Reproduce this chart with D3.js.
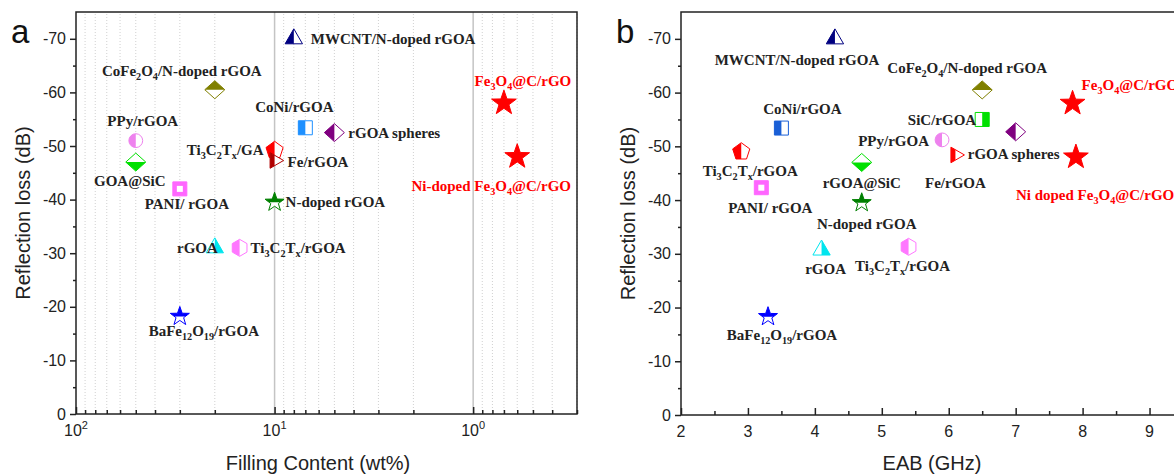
<!DOCTYPE html>
<html>
<head>
<meta charset="utf-8">
<script src="https://cdn.jsdelivr.net/npm/d3@7"></script>
<style>
  body { margin: 0; background: #fff; }
  svg { display: block; }
</style>
</head>
<body>
<div class="canvas"></div>
<script>
// data: panel a, filling content (wt%) vs reflection loss (dB)
var fillNames = ["MWCNT/N-doped rGOA", "CoFe_2O_4/N-doped rGOA", "PPy/rGOA", "GOA@SiC", "PANI/ rGOA",
    "Ti_3C_2T_x/GA", "Fe/rGOA", "CoNi/rGOA", "rGOA spheres", "N-doped rGOA", "rGOA",
    "Ti_3C_2T_x/rGOA", "BaFe_12O_19/rGOA", "Fe_3O_4@C/rGO", "Ni-doped Fe_3O_4@C/rGO"];
var fillContent = [8, 20, 50, 50, 30, 10, 10, 7, 5, 10, 20, 15, 30, 0.7, 0.6];
var fillRL = [-70, -60.5, -51, -47, -42, -49.2, -47.3, -53.4, -52.5, -39.5, -31, -31, -18.2, -58, -48];

// data: panel b, EAB (GHz) vs reflection loss (dB)
var eabNames = ["MWCNT/N-doped rGOA", "CoFe_2O_4/N-doped rGOA", "CoNi/rGOA", "Ti_3C_2T_x/rGOA", "PANI/ rGOA",
    "PPy/rGOA", "rGOA@SiC", "N-doped rGOA", "rGOA", "Ti_3C_2T_x/rGOA", "BaFe_12O_19/rGOA",
    "SiC/rGOA", "rGOA spheres", "Fe/rGOA", "Fe_3O_4@C/rGO", "Ni doped Fe_3O_4@C/rGO"];
var eabValues = [4.3, 6.5, 3.5, 2.9, 3.2, 5.9, 4.7, 4.7, 4.1, 5.4, 3.3, 6.5, 7.0, 6.1, 7.85, 7.9];
var eabRL = [-70, -60.5, -53.4, -49, -42.3, -51.2, -47, -39.5, -30.7, -31.3, -18.3, -55, -52.7, -48.4, -58, -48];

// tick labels
var rlTicks = [0, -10, -20, -30, -40, -50, -60, -70];
var fillTicks = [100, 10, 1];
var fillTickExp = ["2", "1", "0"];
var eabTicks = [2, 3, 4, 5, 6, 7, 8, 9];

// marker styles
var fillShape = ["tri", "diamond", "circle", "diamond", "ring", "pent", "triR", "square", "diamond", "star", "tri", "hex", "star", "bigstar", "bigstar"];
var fillColor = ["#000080", "#808000", "#ee82ee", "#00e000", "#ff66ff", "#ff0000", "#b00000", "#1e90ff", "#800080", "#008000", "#00e5ee", "#ff77ff", "#0000ff", "#ff0000", "#ff0000"];
var fillHalf = ["left", "top", "left", "bottom", "full", "left", "left", "left", "left", "top", "right", "left", "top", "full", "full"];
// label offsets from the marker: dx, dy, anchor
var fillLabel = [[17, 5, "start"], [-33, -14, "middle"], [7, -15, "middle"], [-6, 24, "middle"], [7, 20, "middle"],
    [-11, 5, "end"], [13, 7, "start"], [-11, -16, "middle"], [14, 5, "start"], [11, 5, "start"], [3, 5, "end"],
    [11, 5, "start"], [24, 20, "middle"], [19, -17, "middle"], [-26, 34, "middle"]];
var fillLabelColor = fillNames.map(function (d, i) { return i >= 13 ? "#ff0000" : "#222"; });

var eabShape = ["tri", "diamond", "square", "pent", "ring", "circle", "diamond", "star", "tri", "hex", "star", "square", "diamond", "triR", "bigstar", "bigstar"];
var eabColor = ["#000080", "#808000", "#1a5fd6", "#ff0000", "#ff66ff", "#ee82ee", "#00e000", "#008000", "#00e5ee", "#ff77ff", "#0000ff", "#00e000", "#800080", "#ff0000", "#ff0000", "#ff0000"];
var eabHalf = ["left", "top", "left", "left", "full", "left", "bottom", "top", "right", "left", "top", "right", "left", "left", "full", "full"];
var eabLabel = [[-38, 26, "middle"], [-15, -17, "middle"], [21, -14, "middle"], [9, 24, "middle"], [9, 25, "middle"],
    [-13, 6, "end"], [0, 26, "middle"], [5, 26, "middle"], [4, 24, "middle"], [-6, 24, "middle"], [14, 23, "middle"],
    [-6, 6, "end"], [-2, 27, "middle"], [0, 33, "middle"], [9, -13, "start"], [-60, 43, "start"]];
var eabLabelColor = eabNames.map(function (d, i) { return i >= 14 ? "#ff0000" : "#222"; });

var width = 1174, height = 474;
var sansFont = "'Liberation Sans', Arial, sans-serif",
    serifFont = "'Liberation Serif', 'Times New Roman', serif";

var svg = d3.select('.canvas').append('svg')
    .attr('width', width)
    .attr('height', height);

// clip rectangles for the half-filled markers
var defs = svg.append('defs');
var halves = {
    left: [-30, -30, 30, 60],
    right: [0, -30, 30, 60],
    top: [-30, -30, 60, 30],
    bottom: [-30, 0, 60, 30]
};
Object.keys(halves).forEach(function (k) {
    var h = halves[k];
    defs.append('clipPath').attr('id', 'half-' + k)
        .append('rect')
        .attr('x', h[0]).attr('y', h[1]).attr('width', h[2]).attr('height', h[3]);
});

var line = d3.line();

function poly(n, r, start) {
    return d3.range(n).map(function (i) {
        var a = start + i * 2 * Math.PI / n;
        return [r * Math.cos(a), r * Math.sin(a)];
    });
}

function starPts(r) {
    return d3.range(10).map(function (i) {
        var a = -Math.PI / 2 + i * Math.PI / 5,
            rr = i % 2 ? r * 0.4 : r;
        return [rr * Math.cos(a), rr * Math.sin(a)];
    });
}

function shapePath(shape) {
    switch (shape) {
        case "tri": return line(poly(3, 10, -Math.PI / 2)) + "Z";
        case "triR": return line(poly(3, 9, 0)) + "Z";
        case "diamond": return line([[0, -9], [10, 0], [0, 9], [-10, 0]]) + "Z";
        case "square": return line([[-7, -7], [7, -7], [7, 7], [-7, 7]]) + "Z";
        case "ring": return line([[-7, -7], [7, -7], [7, 7], [-7, 7]]) + "Z";
        case "pent": return line(poly(5, 9, -Math.PI / 2)) + "Z";
        case "hex": return line(poly(6, 8.5, -Math.PI / 2)) + "Z";
        case "star": return line(starPts(10)) + "Z";
        case "bigstar": return line(starPts(13)) + "Z";
        case "circle": return d3.symbol(d3.symbolCircle, 150)();
    }
}

// label text with subscripts written as _2, _12, _x
function richText(sel, str, size) {
    var parts = str.split(/_(\d+|x)/);
    var shifted = false;
    parts.forEach(function (p, i) {
        if (p === "") return;
        var t = sel.append('tspan').text(p);
        if (i % 2) {
            t.attr('font-size', size * 0.68).attr('dy', 4);
            shifted = true;
        } else if (shifted) {
            t.attr('dy', -4);
            shifted = false;
        }
    });
}

function drawPanel(o) {
    var g = svg.append('g');
    var x0 = o.x.range()[0], x1 = o.x.range()[1],
        y0 = o.y.range()[0], y1 = o.y.range()[1];

    // grid
    if (o.grid) {
        g.selectAll('.minor-grid')
            .data(o.minor)
            .enter().append('line')
            .attr('x1', function (d) { return o.x(d); })
            .attr('x2', function (d) { return o.x(d); })
            .attr('y1', y0).attr('y2', y1)
            .attr('stroke', '#d0d0d0')
            .attr('stroke-dasharray', '1,2');
        g.selectAll('.major-grid')
            .data(o.grid)
            .enter().append('line')
            .attr('x1', function (d) { return o.x(d); })
            .attr('x2', function (d) { return o.x(d); })
            .attr('y1', y0).attr('y2', y1)
            .attr('stroke', '#c4c4c4')
            .attr('stroke-width', 1.5);
    }

    // x axis, ticks inside
    var gx = g.append('g').attr('transform', 'translate(0,' + y0 + ')');
    gx.append('g').call(d3.axisBottom(o.x).tickValues(o.xTicks).tickSize(-7).tickFormat(''));
    gx.append('g').call(d3.axisBottom(o.x).tickValues(o.minor).tickSize(-4).tickFormat(''));
    gx.selectAll('.domain').remove();
    gx.selectAll('line').attr('stroke', '#222').attr('stroke-width', 1.5);

    var xl = gx.selectAll('.xlab')
        .data(o.xTicks)
        .enter().append('text')
        .attr('x', function (d) { return o.x(d); })
        .attr('y', 22)
        .attr('text-anchor', 'middle')
        .attr('font-family', sansFont)
        .attr('font-size', 16)
        .attr('fill', '#222');
    if (o.exps) {
        xl.text('10').append('tspan')
            .attr('dy', -7).attr('font-size', 11)
            .text(function (d, i) { return o.exps[i]; });
    } else {
        xl.text(function (d) { return d; });
    }

    // y axis, ticks outside
    var gy = g.append('g').attr('transform', 'translate(' + x0 + ',0)');
    gy.append('g').call(d3.axisLeft(o.y).tickValues(rlTicks).tickSize(6).tickPadding(4)
        .tickFormat(function (d) { return String(d); }));
    gy.append('g').call(d3.axisLeft(o.y).tickValues(d3.range(-5, -66, -10)).tickSize(3).tickFormat(''));
    gy.selectAll('.domain').remove();
    gy.selectAll('line').attr('stroke', '#222').attr('stroke-width', 1.5);
    gy.selectAll('text')
        .attr('font-family', sansFont)
        .attr('font-size', 16)
        .attr('fill', '#222');

    // frame
    g.append('rect')
        .attr('x', x0).attr('y', y1)
        .attr('width', x1 - x0).attr('height', y0 - y1)
        .attr('fill', 'none')
        .attr('stroke', '#222')
        .attr('stroke-width', 1.5);

    // titles
    g.append('text')
        .attr('x', o.titleX).attr('y', 470)
        .attr('text-anchor', 'middle')
        .attr('font-family', sansFont).attr('font-size', 20).attr('fill', '#222')
        .text(o.xTitle);
    g.append('text')
        .attr('transform', 'translate(' + (x0 - 46) + ',' + ((y0 + y1) / 2) + ') rotate(-90)')
        .attr('text-anchor', 'middle')
        .attr('font-family', sansFont).attr('font-size', 20).attr('fill', '#222')
        .text('Reflection loss (dB)');
    g.append('text')
        .attr('x', o.x0Letter || x0 - 65).attr('y', 43)
        .attr('font-family', sansFont).attr('font-size', 33).attr('fill', '#111')
        .text(o.letter);

    // markers
    o.names.forEach(function (name, i) {
        var m = g.append('g')
            .attr('transform', 'translate(' + o.x(o.xs[i]) + ',' + o.y(o.ys[i]) + ')');
        var p = shapePath(o.shape[i]),
            c = o.color[i],
            half = o.half[i];
        if (half === 'full') {
            m.append('path').attr('d', p).attr('fill', c).attr('stroke', c);
        } else {
            m.append('path').attr('d', p).attr('fill', '#fff').attr('stroke', c).attr('stroke-width', 1);
            m.append('path').attr('d', p).attr('fill', c).attr('clip-path', 'url(#half-' + half + ')');
        }
        if (o.shape[i] === 'ring') {
            m.append('rect').attr('x', -3).attr('y', -3).attr('width', 6).attr('height', 6).attr('fill', '#fff');
        }
    });

    // labels, drawn over the markers
    o.names.forEach(function (name, i) {
        var l = o.label[i];
        var t = g.append('text')
            .attr('x', o.x(o.xs[i]) + l[0])
            .attr('y', o.y(o.ys[i]) + l[1])
            .attr('text-anchor', l[2])
            .attr('font-family', serifFont)
            .attr('font-weight', 'bold')
            .attr('font-size', 15)
            .attr('fill', o.labelColor[i]);
        richText(t, name, 15);
    });
}

var yA = d3.scaleLinear().domain([0, -75]).range([414, 12]);
var xA = d3.scaleLog().domain([100, 0.3]).range([76, 577]);
var fillMinor = [90, 80, 70, 60, 50, 40, 30, 20, 9, 8, 7, 6, 5, 4, 3, 2, 0.9, 0.8, 0.7, 0.6, 0.5, 0.4, 0.3];

drawPanel({
    x: xA, y: yA, letter: 'a',
    xTicks: fillTicks, exps: fillTickExp, minor: fillMinor, grid: [10, 1],
    xTitle: 'Filling Content (wt%)', titleX: 318,
    names: fillNames, xs: fillContent, ys: fillRL,
    shape: fillShape, color: fillColor, half: fillHalf,
    label: fillLabel, labelColor: fillLabelColor
});

var yB = d3.scaleLinear().domain([0, -75]).range([415, 12]);
var xB = d3.scaleLinear().domain([2, 9.5]).range([681, 1183]);

drawPanel({
    x: xB, y: yB, letter: 'b',
    xTicks: eabTicks, minor: [2.5, 3.5, 4.5, 5.5, 6.5, 7.5, 8.5, 9.5],
    xTitle: 'EAB (GHz)', titleX: 932,
    names: eabNames, xs: eabValues, ys: eabRL,
    shape: eabShape, color: eabColor, half: eabHalf,
    label: eabLabel, labelColor: eabLabelColor
});
</script>
</body>
</html>
